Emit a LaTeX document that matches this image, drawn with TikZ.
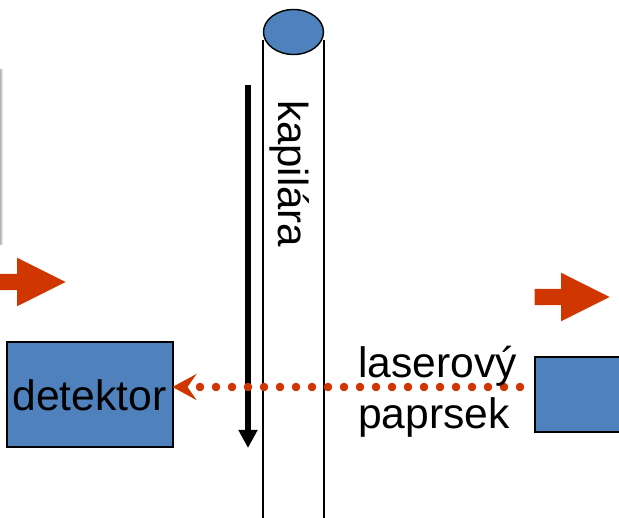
\documentclass[tikz,border=0pt]{standalone}
\usepackage{fontspec}
\setmainfont{Liberation Sans}
\usetikzlibrary{arrows.meta,shapes.geometric,shapes.arrows}
\definecolor{boxblue}{RGB}{79,129,189}
\definecolor{beamred}{RGB}{207,54,0}

\begin{document}
\begin{tikzpicture}
  [x=1pt,y=-1pt,
   box/.style={rectangle,draw=black,line width=2pt,fill=boxblue,inner sep=0pt},
   label/.style={inner sep=0pt,font=\fontsize{42.6}{51}\selectfont},
   blockarrow/.style={single arrow,fill=beamred,inner sep=0pt,text height=16pt,text depth=0pt,
     text width=0pt,minimum width=48pt,single arrow tip angle=53.13,single arrow head extend=16pt}]
  \clip (0,0) rectangle (619,518);
  \shade[left color=black!30,right color=white] (0,70) rectangle (3,245);
  % capillary
  \coordinate (wallltop) at (263,40);
  \coordinate (walllbot) at (263,518);
  \coordinate (wallrtop) at (324,40);
  \coordinate (wallrbot) at (324,518);
  \foreach \from/\to in {wallltop/walllbot,wallrtop/wallrbot}
    \draw[line width=1.4pt] (\from) -- (\to);
  \node (end) at (293.5,32) [ellipse,draw=black,line width=1.4pt,fill=boxblue,
    minimum width=60pt,minimum height=45pt,inner sep=0pt] {};
  \node (kap) at (278,100) [label,font=\fontsize{42}{51}\selectfont,rotate=-90,anchor=base west] {kapilára};
  % flow
  \coordinate (flowtop) at (248,85);
  \coordinate (flowbot) at (248,448);
  \draw[line width=6pt,-{Triangle[length=18pt,width=18pt]}] (flowtop) -- (flowbot);
  % boxes
  \node (det) at (89.5,395) [box,minimum width=166pt,minimum height=105pt,font=\fontsize{42.6}{51}\selectfont] {detektor};
  \node (las) at (585,395) [box,minimum width=100pt,minimum height=75pt] {};
  % beam
  \coordinate (beamstart) at (520,387);
  \coordinate (beamend) at (172.5,387);
  \draw[beamred,line width=8.6pt,line cap=round,dash pattern=on 0pt off 16pt,
    -{Stealth[length=24pt,width=26pt,inset=9pt]}] (beamstart) -- (beamend);
  \node (beam) at (358,429) [label,anchor=base west,align=left] {laserový\\paprsek};
  % red arrows
  \node (arrl) at (66,282) [blockarrow,minimum height=100pt,anchor=tip] {};
  \node (arrr) at (610,297) [blockarrow,minimum height=75pt,anchor=tip] {};
\end{tikzpicture}
\end{document}
